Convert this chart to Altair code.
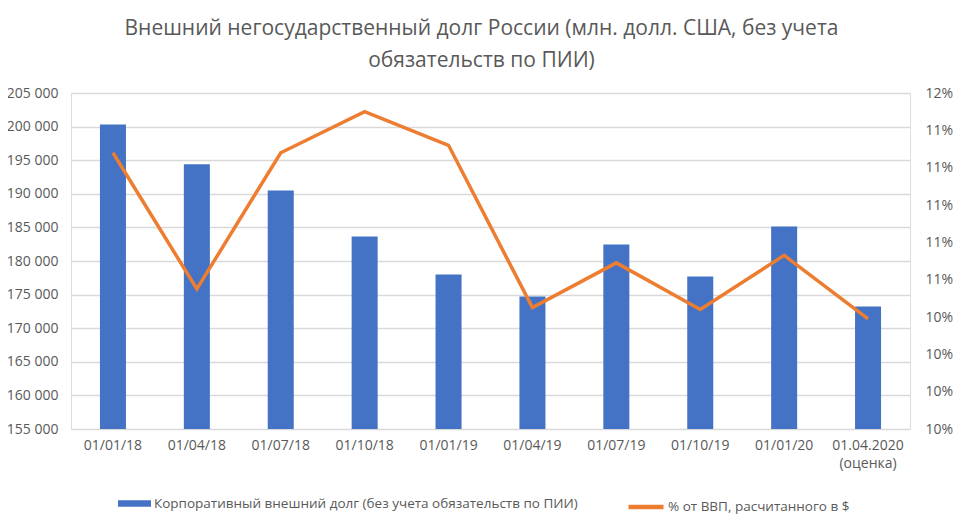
import altair as alt
import pandas as pd

dates = ["01/01/18", "01/04/18", "01/07/18", "01/10/18", "01/01/19",
         "01/04/19", "01/07/19", "01/10/19", "01/01/20", "01.04.2020 (оценка)"]
debt = [200330, 194380, 190500, 183650, 177990, 174710, 182460, 177690, 185140, 173220]
pct_gdp = [0.1128, 0.1055, 0.1128, 0.1150, 0.1132, 0.1045, 0.1069, 0.1044, 0.1073, 0.1039]

left_ticks = [155000, 160000, 165000, 170000, 175000, 180000, 185000, 190000, 195000, 200000, 205000]
right_ticks = [0.098, 0.100, 0.102, 0.104, 0.106, 0.108, 0.110, 0.112, 0.114, 0.116]

bar_name = "Корпоративный внешний долг (без учета обязательств по ПИИ)"
line_name = "% от ВВП, расчитанного в $"
title_lines = ["Внешний негосударственный долг России (млн. долл. США, без учета",
               "обязательств по ПИИ)"]

df = pd.DataFrame({"date": dates, "debt": debt, "pct": pct_gdp,
                   "s1": bar_name, "s2": line_name})

FONT = "Open Sans"
GREY = "#595959"

xenc = alt.X("date:N", sort=dates, title=None,
             scale=alt.Scale(paddingInner=0.69, paddingOuter=0.345),
             axis=alt.Axis(labelAngle=0, domain=False, ticks=False, labelPadding=9,
                           labelExpr="split(datum.label, ' ')", labelLineHeight=18,
                           labelFontSize=14, labelColor=GREY, labelFont=FONT, grid=False))

bars = alt.Chart(df).mark_bar().encode(
    x=xenc,
    y=alt.Y("debt:Q", title=None,
            scale=alt.Scale(domain=[155000, 205000], zero=False, nice=False),
            axis=alt.Axis(values=left_ticks, domain=False, ticks=False, labelPadding=13,
                          labelExpr="replace(format(datum.value, ','), ',', ' ')",
                          labelFontSize=14, labelColor=GREY, labelFont=FONT,
                          grid=True, gridColor="#d9d9d9", gridWidth=1.3)),
    y2=alt.Y2(datum=155000),
    color=alt.Color("s1:N", scale=alt.Scale(range=["#4472C4"]),
                    legend=alt.Legend(orient="none", legendX=47, legendY=394, title=None,
                                      symbolType="M-1,-0.2L1,-0.2L1,0.2L-1,0.2Z",
                                      symbolSize=1089, symbolStrokeWidth=0,
                                      labelFontSize=13.5, labelColor=GREY, labelFont=FONT,
                                      labelOffset=3, labelLimit=0)),
)

line = alt.Chart(df).mark_line(strokeWidth=3.5).encode(
    x=alt.X("date:N", sort=dates),
    y=alt.Y("pct:Q", title=None,
            scale=alt.Scale(domain=[0.098, 0.116], zero=False, nice=False),
            axis=alt.Axis(orient="right", values=right_ticks, format=".0%",
                          domain=False, ticks=False, labelPadding=15, grid=False,
                          labelFontSize=14, labelColor=GREY, labelFont=FONT)),
    stroke=alt.Stroke("s2:N", scale=alt.Scale(range=["#ED7D31"]),
                      legend=alt.Legend(orient="none", legendX=555, legendY=394, title=None,
                                        symbolType="stroke", symbolSize=1225,
                                        symbolStrokeWidth=4.5,
                                        labelFontSize=13.5, labelColor=GREY, labelFont=FONT,
                                        labelOffset=2, labelLimit=0)),
)

chart = alt.layer(bars, line).resolve_scale(y="independent").properties(
    width=839, height=336,
    padding={"left": 63, "top": 85, "right": 46, "bottom": 87},
    autosize=alt.AutoSizeParams(type="none"),
    title=alt.TitleParams(text=title_lines, fontSize=21, font=FONT, fontWeight="normal",
                          color=GREY, lineHeight=32, anchor="middle", offset=15, dx=-9),
).configure_view(stroke=None).configure(background="white")

chart.save("out.html", embed_options={"renderer": "svg", "actions": False})
